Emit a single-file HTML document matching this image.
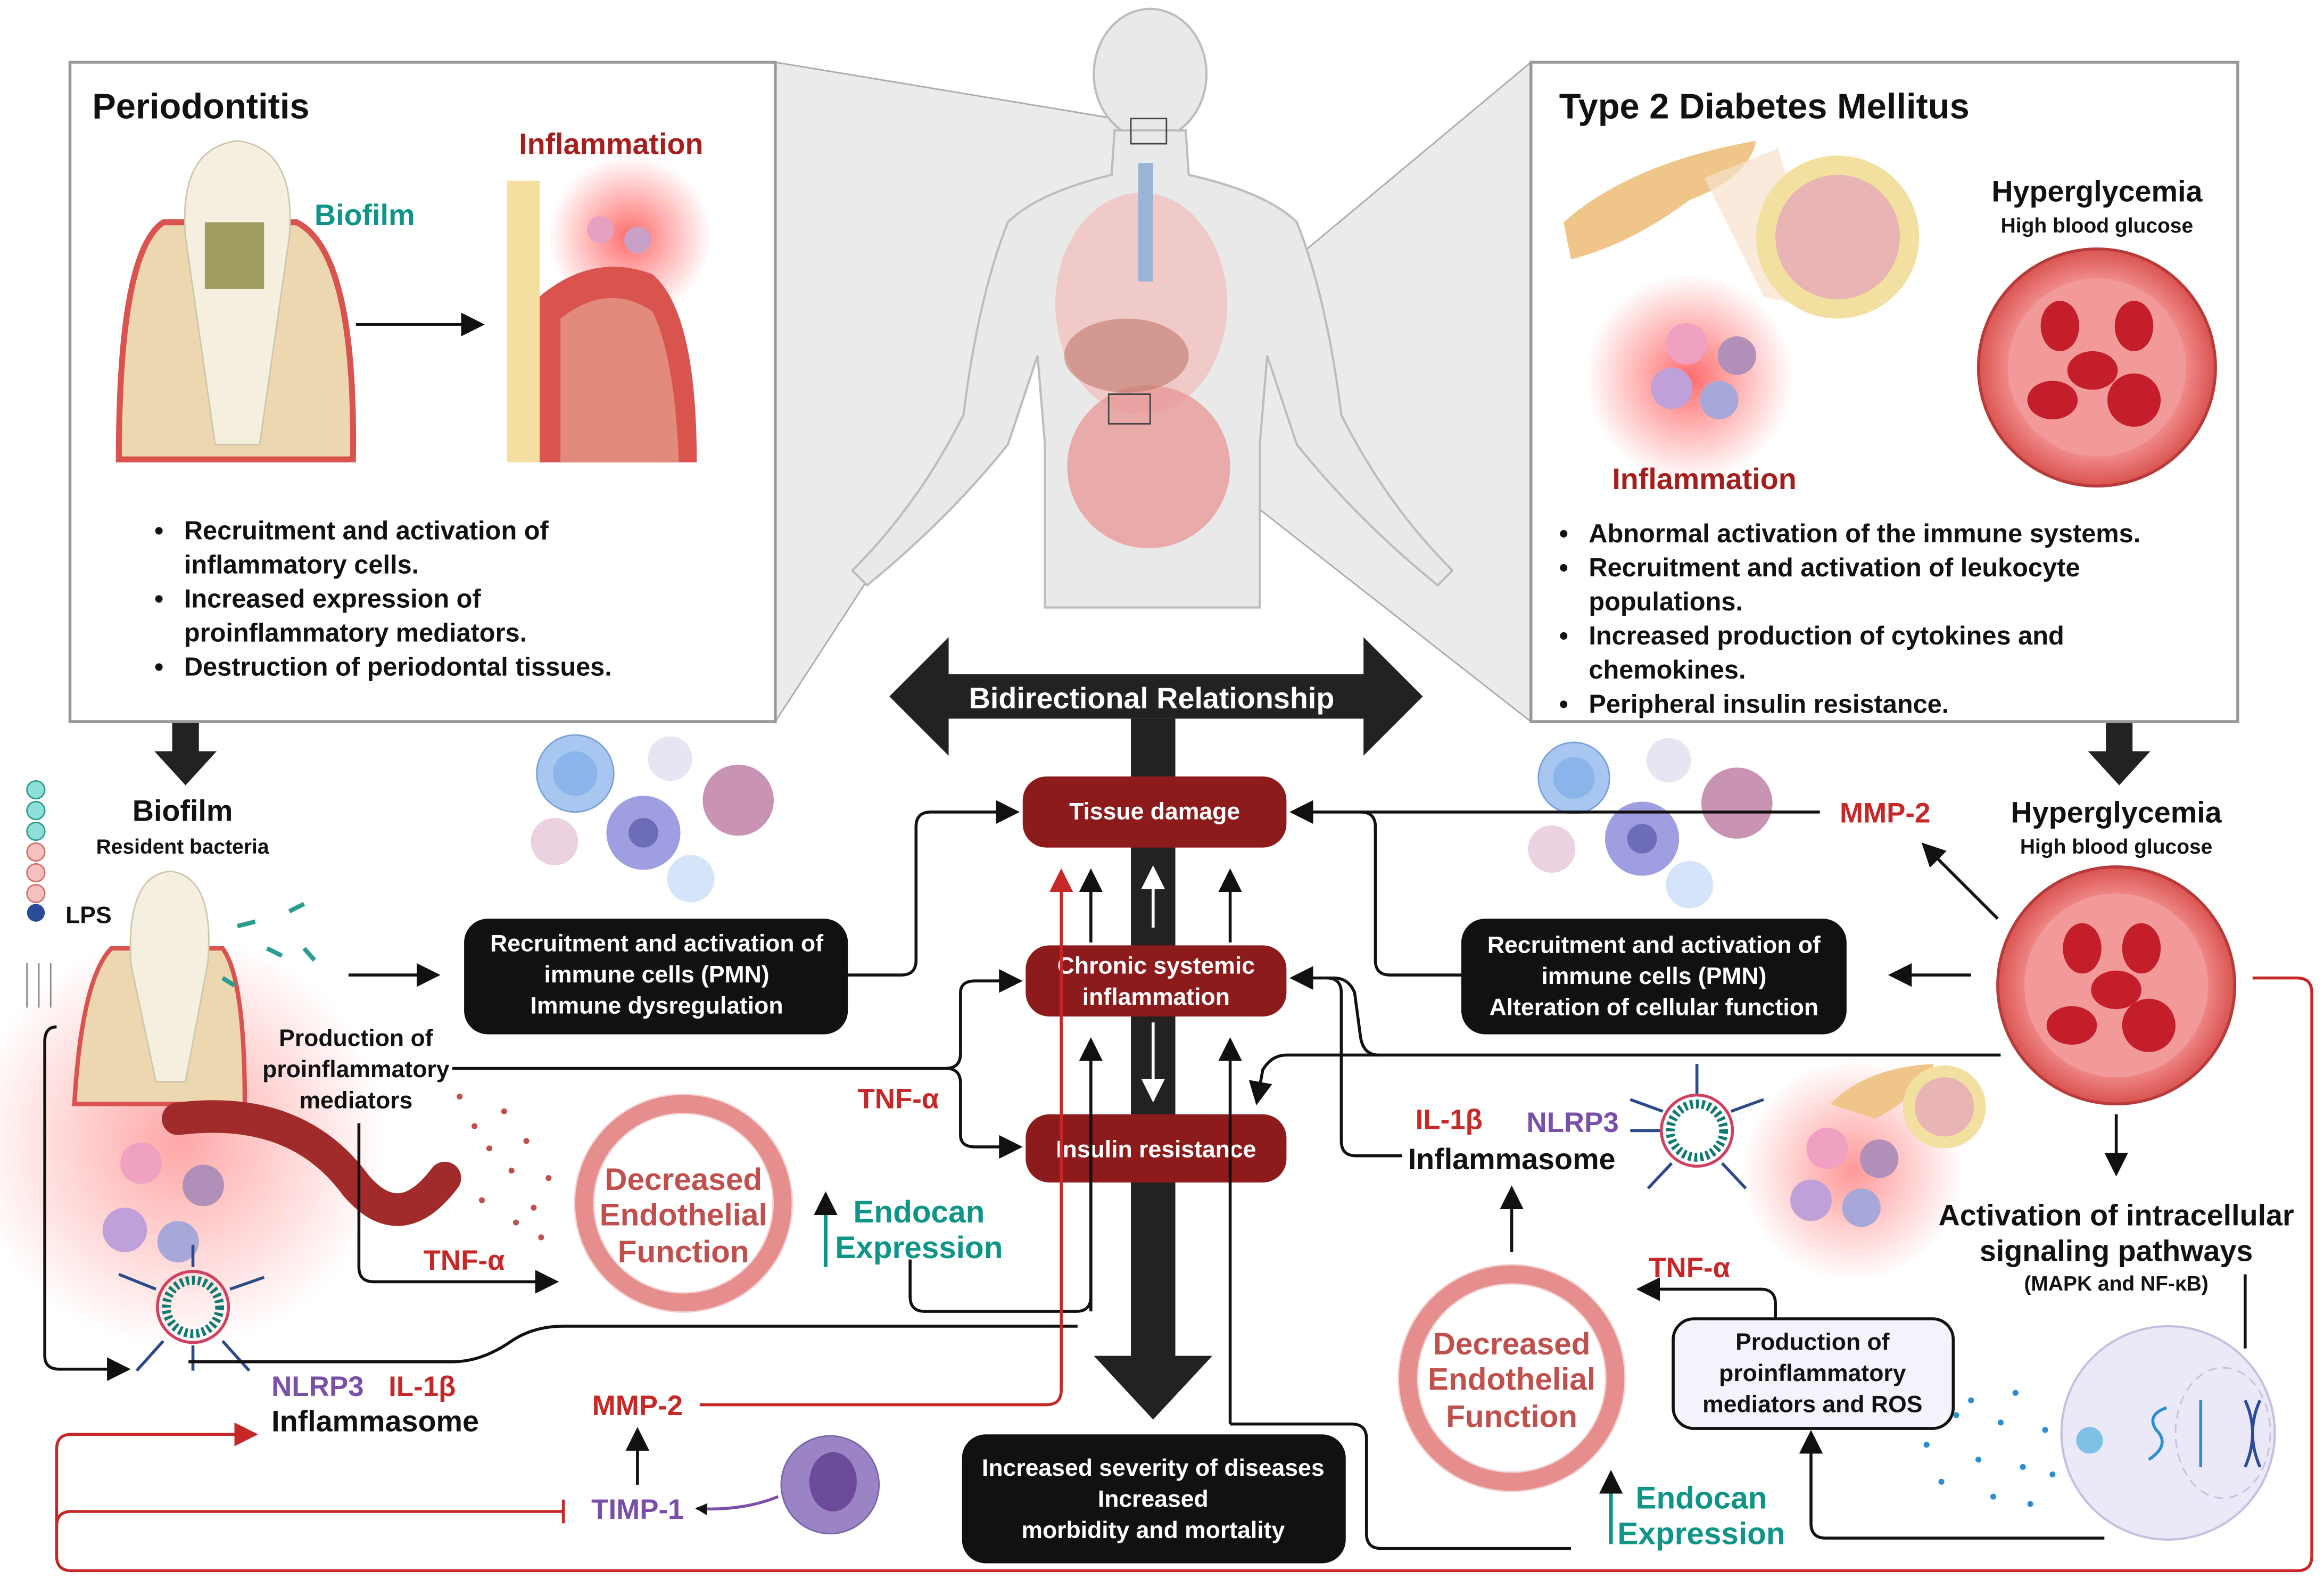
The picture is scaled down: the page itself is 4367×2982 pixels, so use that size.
<!DOCTYPE html>
<html><head><meta charset="utf-8"><style>
html,body{margin:0;padding:0;background:#fff}
svg{display:block}
text{font-family:"Liberation Sans",sans-serif;font-weight:bold}
</style></head><body>
<svg width="4367" height="2982" viewBox="0 0 1568 1071" xmlns="http://www.w3.org/2000/svg">
<defs>
<marker id="ak" markerWidth="8" markerHeight="8" refX="7" refY="4" orient="auto" markerUnits="userSpaceOnUse"><path d="M0,0 L14,7 L0,14 z" transform="scale(0.57)" fill="#111"/></marker>
<marker id="ar" markerWidth="16" markerHeight="16" refX="14" refY="8" orient="auto" markerUnits="userSpaceOnUse"><path d="M0,0 L16,8 L0,16 z" fill="#c62828"/></marker>
<marker id="ab" markerWidth="16" markerHeight="16" refX="14" refY="8" orient="auto" markerUnits="userSpaceOnUse"><path d="M0,0 L16,8 L0,16 z" fill="#111"/></marker>
<marker id="aw" markerWidth="16" markerHeight="16" refX="14" refY="8" orient="auto" markerUnits="userSpaceOnUse"><path d="M0,0 L16,8 L0,16 z" fill="#fff"/></marker>
<radialGradient id="glow"><stop offset="0" stop-color="#ff3b3b" stop-opacity=".75"/><stop offset="1" stop-color="#ff3b3b" stop-opacity="0"/></radialGradient>
<radialGradient id="vess"><stop offset="0.75" stop-color="#f08a8a"/><stop offset="1" stop-color="#d9534f"/></radialGradient>
</defs>

<polygon points="523,42 776,84 776,98 523,487" fill="#ebebeb" stroke="#aaa" stroke-width="1"/>
<polygon points="1033,42 762,268 776,286 1033,487" fill="#ebebeb" stroke="#aaa" stroke-width="1"/>

<g fill="#e9e9e9" stroke="#bdbdbd" stroke-width="1.5">
<ellipse cx="776" cy="50" rx="38" ry="44"/>
<path d="M752,88 L750,118 Q700,130 680,150 Q660,200 650,280 Q620,340 575,385 L585,395 Q640,350 680,300 L700,240 L705,300 L705,410 L850,410 L850,300 L855,240 L875,300 Q915,350 970,395 L980,385 Q935,340 905,280 Q895,200 875,150 Q855,130 802,118 L800,88 Z"/>
</g>
<ellipse cx="770" cy="205" rx="58" ry="75" fill="#f1c0c0" opacity=".8"/>
<ellipse cx="775" cy="315" rx="55" ry="55" fill="#e99a9a" opacity=".8"/>
<ellipse cx="760" cy="240" rx="42" ry="25" fill="#c0796a" opacity=".6"/>
<rect x="768" y="110" width="10" height="80" fill="#9ab4d6"/>
<rect x="763" y="80" width="24" height="17" fill="none" stroke="#444"/>
<rect x="748" y="266" width="28" height="20" fill="none" stroke="#444"/>

<rect x="47" y="42" width="476" height="445" fill="#fff" stroke="#999" stroke-width="2"/>
<rect x="1033" y="42" width="477" height="445" fill="#fff" stroke="#999" stroke-width="2"/>

<text x="62" y="80" font-size="24" fill="#111">Periodontitis</text>
<text x="350" y="104" font-size="20" fill="#a51e1e">Inflammation</text>
<text x="212" y="152" font-size="20" fill="#0f9488">Biofilm</text>
<path d="M80,310 Q80,170 110,150 L200,150 Q240,170 238,310 Z" fill="#ecd7b0" stroke="#d9534f" stroke-width="4"/>
<path d="M125,160 Q120,100 160,95 Q200,100 195,160 L175,300 L145,300 Z" fill="#f5efe0" stroke="#cfc6ae"/>
<rect x="138" y="150" width="40" height="45" fill="#7a7a2a" opacity=".7"/>
<line x1="240" y1="219" x2="325" y2="219" stroke="#111" stroke-width="2" marker-end="url(#ab)"/>
<circle cx="425" cy="160" r="55" fill="url(#glow)"/>
<rect x="342" y="122" width="22" height="190" fill="#f5dfa0"/>
<path d="M364,312 L364,200 Q400,170 440,185 Q470,210 470,312 Z" fill="#d9534f"/>
<path d="M378,312 L378,215 Q410,190 440,210 Q455,240 458,312 Z" fill="#e28b7d"/>
<circle cx="405" cy="155" r="9" fill="#e6a0c0"/><circle cx="430" cy="162" r="9" fill="#c8a0c8"/>
<g font-size="17.5" fill="#111">
<text x="104" y="364">•</text><text x="124" y="364">Recruitment and activation of</text>
<text x="124" y="387">inflammatory cells.</text>
<text x="104" y="410">•</text><text x="124" y="410">Increased expression of</text>
<text x="124" y="433">proinflammatory mediators.</text>
<text x="104" y="456">•</text><text x="124" y="456">Destruction of periodontal tissues.</text>
</g>

<text x="1052" y="80" font-size="24" fill="#111">Type 2 Diabetes Mellitus</text>
<text x="1415" y="136" font-size="20" fill="#111" text-anchor="middle">Hyperglycemia</text>
<text x="1415" y="157" font-size="14" fill="#111" font-weight="normal" text-anchor="middle">High blood glucose</text>
<path d="M1055,150 Q1100,110 1185,95 Q1180,120 1140,135 Q1100,165 1060,175 Z" fill="#efc58a"/>
<polygon points="1150,120 1200,100 1230,210 1190,200" fill="#f6e1cc" opacity=".7"/>
<circle cx="1240" cy="160" r="55" fill="#f2e0a0"/><circle cx="1240" cy="160" r="42" fill="#e9b4b4"/>
<circle cx="1140" cy="255" r="70" fill="url(#glow)"/>
<circle cx="1138" cy="232" r="14" fill="#f0a0c0"/><circle cx="1172" cy="240" r="13" fill="#b090b8"/>
<circle cx="1128" cy="262" r="14" fill="#c0a0d8"/><circle cx="1160" cy="270" r="13" fill="#a8a8d8"/>
<text x="1150" y="330" font-size="20" fill="#a51e1e" text-anchor="middle">Inflammation</text>
<circle cx="1415" cy="248" r="80" fill="url(#vess)" stroke="#b83b3b" stroke-width="2"/>
<circle cx="1415" cy="248" r="60" fill="#f29a9a"/>
<ellipse cx="1390" cy="220" rx="13" ry="17" fill="#c41e2a"/><ellipse cx="1440" cy="220" rx="13" ry="17" fill="#c41e2a"/>
<ellipse cx="1412" cy="250" rx="17" ry="13" fill="#c41e2a"/><ellipse cx="1385" cy="270" rx="17" ry="13" fill="#c41e2a"/>
<ellipse cx="1440" cy="270" rx="18" ry="18" fill="#c41e2a"/>
<g font-size="17.5" fill="#111">
<text x="1052" y="366">•</text><text x="1072" y="366">Abnormal activation of the immune systems.</text>
<text x="1052" y="389">•</text><text x="1072" y="389">Recruitment and activation of leukocyte</text>
<text x="1072" y="412">populations.</text>
<text x="1052" y="435">•</text><text x="1072" y="435">Increased production of cytokines and</text>
<text x="1072" y="458">chemokines.</text>
<text x="1052" y="481">•</text><text x="1072" y="481">Peripheral insulin resistance.</text>
</g>

<polygon points="600,470 640,430 640,455 920,455 920,430 960,470 920,510 920,485 640,485 640,510" fill="#222"/>
<text x="777" y="478" font-size="20" fill="#fff" text-anchor="middle">Bidirectional Relationship</text>
<polygon points="763,485 793,485 793,915 818,915 778,958 738,915 763,915" fill="#222"/>

<polygon points="116,488 134,488 134,507 146,507 125,530 104,507 116,507" fill="#222"/>
<polygon points="1421,488 1439,488 1439,507 1451,507 1430,530 1409,507 1421,507" fill="#222"/>

<rect x="690" y="524" width="178" height="48" rx="16" fill="#8e1b1b"/>
<text x="779" y="553" font-size="16" fill="#fff" text-anchor="middle">Tissue damage</text>
<rect x="692" y="638" width="176" height="48" rx="16" fill="#8e1b1b"/>
<text x="780" y="657" font-size="16" fill="#fff" text-anchor="middle">Chronic systemic</text>
<text x="780" y="678" font-size="16" fill="#fff" text-anchor="middle">inflammation</text>
<rect x="692" y="752" width="176" height="46" rx="16" fill="#8e1b1b"/>
<text x="780" y="781" font-size="16" fill="#fff" text-anchor="middle">Insulin resistance</text>

<line x1="736" y1="636" x2="736" y2="588" stroke="#111" stroke-width="2" marker-end="url(#ab)"/>
<line x1="830" y1="636" x2="830" y2="588" stroke="#111" stroke-width="2" marker-end="url(#ab)"/>
<line x1="778" y1="626" x2="778" y2="586" stroke="#fff" stroke-width="2" marker-end="url(#aw)"/>
<line x1="778" y1="690" x2="778" y2="742" stroke="#fff" stroke-width="2" marker-end="url(#aw)"/>
<line x1="736" y1="885" x2="736" y2="702" stroke="#111" stroke-width="2" marker-end="url(#ab)"/>
<line x1="830" y1="961" x2="830" y2="702" stroke="#111" stroke-width="2" marker-end="url(#ab)"/>

<rect x="313" y="620" width="259" height="78" rx="16" fill="#111"/>
<g font-size="16" fill="#fff" text-anchor="middle">
<text x="443" y="642">Recruitment and activation of</text>
<text x="443" y="663">immune cells (PMN)</text>
<text x="443" y="684">Immune dysregulation</text>
</g>
<rect x="986" y="620" width="260" height="78" rx="16" fill="#111"/>
<g font-size="16" fill="#fff" text-anchor="middle">
<text x="1116" y="643">Recruitment and activation of</text>
<text x="1116" y="664">immune cells (PMN)</text>
<text x="1116" y="685">Alteration of cellular function</text>
</g>
<rect x="649" y="968" width="259" height="87" rx="16" fill="#111"/>
<g font-size="16" fill="#fff" text-anchor="middle">
<text x="778" y="996">Increased severity of diseases</text>
<text x="778" y="1017">Increased</text>
<text x="778" y="1038">morbidity and mortality</text>
</g>

<text x="123" y="554" font-size="20" fill="#111" text-anchor="middle">Biofilm</text>
<text x="123" y="576" font-size="14" fill="#111" font-weight="normal" text-anchor="middle">Resident bacteria</text>
<g fill="#8fe0d8" stroke="#2a9d8f"><circle cx="24" cy="533" r="6"/><circle cx="24" cy="547" r="6"/><circle cx="24" cy="561" r="6"/></g>
<g fill="#f5c0c0" stroke="#d07070"><circle cx="24" cy="575" r="6"/><circle cx="24" cy="589" r="6"/><circle cx="24" cy="603" r="6"/></g>
<circle cx="24" cy="616" r="6" fill="#2a4a9a"/>
<text x="44" y="623" font-size="16" fill="#111">LPS</text>
<g stroke="#888" stroke-width="1"><line x1="18" y1="650" x2="18" y2="680"/><line x1="26" y1="650" x2="26" y2="680"/><line x1="34" y1="650" x2="34" y2="680"/></g>
<circle cx="40" cy="770" r="140" fill="url(#glow)" opacity=".6" transform="translate(80,0)"/>
<path d="M50,745 Q55,660 75,640 L150,640 Q165,660 165,745 Z" fill="#ecd7b0" stroke="#d9534f" stroke-width="3"/>
<path d="M88,650 Q85,590 115,588 Q145,592 140,650 L125,730 L105,730 Z" fill="#f5efe0" stroke="#cfc6ae"/>
<circle cx="95" cy="785" r="14" fill="#f0a0c0"/><circle cx="137" cy="800" r="14" fill="#b090b8"/>
<circle cx="84" cy="830" r="15" fill="#c0a0d8"/><circle cx="120" cy="838" r="14" fill="#a8a8d8"/>
<g stroke="#2a9d8f" stroke-width="3"><line x1="160" y1="625" x2="172" y2="622"/><line x1="195" y1="615" x2="205" y2="610"/><line x1="180" y1="640" x2="190" y2="645"/><line x1="205" y1="640" x2="212" y2="648"/><line x1="150" y1="660" x2="158" y2="665"/></g>
<line x1="235" y1="658" x2="295" y2="658" stroke="#111" stroke-width="2" marker-end="url(#ab)"/>
<text x="240" y="706" font-size="16" fill="#111" text-anchor="middle">Production of</text>
<text x="240" y="727" font-size="16" fill="#111" text-anchor="middle">proinflammatory</text>
<text x="240" y="748" font-size="16" fill="#111" text-anchor="middle">mediators</text>
<circle cx="388" cy="522" r="26" fill="#a7c6f0" stroke="#7aa0d8"/><circle cx="388" cy="522" r="15" fill="#8ab4ea"/>
<circle cx="452" cy="512" r="15" fill="#e6e6f2"/>
<circle cx="498" cy="540" r="24" fill="#c994b4"/>
<circle cx="434" cy="562" r="25" fill="#9f9ee0"/><circle cx="434" cy="562" r="10" fill="#6d6cb8"/>
<circle cx="374" cy="568" r="16" fill="#ecd2e0"/>
<circle cx="466" cy="593" r="16" fill="#d6e4fa"/>
<path d="M120,755 Q200,745 240,800 Q270,835 300,795" fill="none" stroke="#a12b2b" stroke-width="22" stroke-linecap="round"/>
<g fill="#c0504d"><circle cx="320" cy="760" r="2"/><circle cx="330" cy="775" r="2"/><circle cx="345" cy="790" r="2"/><circle cx="310" cy="740" r="2"/><circle cx="340" cy="750" r="2"/><circle cx="355" cy="770" r="2"/><circle cx="325" cy="810" r="2"/><circle cx="360" cy="815" r="2"/><circle cx="370" cy="795" r="2"/><circle cx="348" cy="825" r="2"/><circle cx="365" cy="835" r="2"/></g>
<circle cx="461" cy="812" r="67" fill="none" stroke="#ec9b9b" stroke-width="12"/>
<circle cx="461" cy="812" r="67" fill="none" stroke="#d86d6d" stroke-width="14" stroke-opacity=".3"/>
<text x="461" y="803" font-size="21" fill="#c0504d" text-anchor="middle">Decreased</text>
<text x="461" y="827" font-size="21" fill="#c0504d" text-anchor="middle">Endothelial</text>
<text x="461" y="852" font-size="21" fill="#c0504d" text-anchor="middle">Function</text>
<line x1="557" y1="855" x2="557" y2="806" stroke="#0f9488" stroke-width="2.5" marker-end="url(#ab)"/>
<text x="620" y="825" font-size="21" fill="#0f9488" text-anchor="middle">Endocan</text>
<text x="620" y="849" font-size="21" fill="#0f9488" text-anchor="middle">Expression</text>
<text x="313" y="857" font-size="19" fill="#c62828" text-anchor="middle">TNF-α</text>
<text x="606" y="748" font-size="19" fill="#c62828" text-anchor="middle">TNF-α</text>
<circle cx="130" cy="882" r="18" fill="none" stroke="#0f7a70" stroke-width="6" stroke-dasharray="2 2"/>
<circle cx="130" cy="882" r="24" fill="none" stroke="#d04060" stroke-width="2"/>
<g stroke="#2a4a8a" stroke-width="2"><line x1="130" y1="855" x2="130" y2="840"/><line x1="155" y1="870" x2="178" y2="862"/><line x1="105" y1="870" x2="80" y2="860"/><line x1="110" y1="905" x2="92" y2="925"/><line x1="150" y1="905" x2="168" y2="925"/><line x1="130" y1="908" x2="130" y2="925"/></g>
<text x="183" y="942" font-size="19" fill="#7a4fa8">NLRP3</text>
<text x="262" y="942" font-size="19" fill="#c62828">IL-1β</text>
<text x="183" y="966" font-size="20" fill="#111">Inflammasome</text>
<text x="430" y="955" font-size="19" fill="#c62828" text-anchor="middle">MMP-2</text>
<line x1="430" y1="1002" x2="430" y2="965" stroke="#111" stroke-width="2" marker-end="url(#ab)"/>
<text x="430" y="1025" font-size="19" fill="#7a4fa8" text-anchor="middle">TIMP-1</text>
<circle cx="560" cy="1002" r="33" fill="#9a84c6" stroke="#7a64a6"/>
<ellipse cx="562" cy="1000" rx="16" ry="20" fill="#6c4c9a"/>
<path d="M525,1010 Q500,1020 470,1018" fill="none" stroke="#7a4fa8" stroke-width="2" marker-end="url(#ak)"/>

<g fill="none" stroke="#111" stroke-width="2">
<path d="M572,658 L608,658 Q618,658 618,648 L618,558 Q618,548 628,548 L686,548" marker-end="url(#ab)"/>
<path d="M305,721 L638,721 Q648,721 648,711 L648,670 Q648,662 658,662 L688,662" marker-end="url(#ab)"/>
<path d="M638,721 Q648,721 648,731 L648,766 Q648,774 658,774 L688,774" marker-end="url(#ab)"/>
<path d="M242,758 L242,855 Q242,865 252,865 L375,865" marker-end="url(#ab)"/>
<path d="M614,850 L614,875 Q614,885 624,885 L726,885 Q736,885 736,875"/>
<path d="M38,693 Q30,693 30,703 L30,915 Q30,924 40,924 L86,924" marker-end="url(#ab)"/>
<path d="M127,919 L305,919 Q325,919 345,905 Q360,895 380,895 L727,895"/>
</g>
<g fill="none" stroke="#c62828" stroke-width="2">
<path d="M472,948 L706,948 Q716,948 716,938 L716,588" marker-end="url(#ar)"/>
<path d="M1520,660 L1550,660 Q1560,660 1560,670 L1560,1050 Q1560,1060 1550,1060 L48,1060 Q38,1060 38,1050 L38,978 Q38,968 48,968 L172,968" marker-end="url(#ar)"/>
<path d="M380,1020 L48,1020 Q38,1020 38,1030"/>
<line x1="380" y1="1012" x2="380" y2="1028"/>
</g>

<text x="1428" y="555" font-size="20" fill="#111" text-anchor="middle">Hyperglycemia</text>
<text x="1428" y="576" font-size="14" fill="#111" font-weight="normal" text-anchor="middle">High blood glucose</text>
<circle cx="1428" cy="665" r="80" fill="url(#vess)" stroke="#b83b3b" stroke-width="2"/>
<circle cx="1428" cy="665" r="62" fill="#f29a9a"/>
<ellipse cx="1405" cy="640" rx="13" ry="17" fill="#c41e2a"/><ellipse cx="1445" cy="640" rx="13" ry="17" fill="#c41e2a"/>
<ellipse cx="1428" cy="668" rx="17" ry="13" fill="#c41e2a"/><ellipse cx="1398" cy="692" rx="17" ry="13" fill="#c41e2a"/>
<ellipse cx="1450" cy="692" rx="18" ry="18" fill="#c41e2a"/>
<text x="1272" y="555" font-size="19" fill="#c62828" text-anchor="middle">MMP-2</text>
<circle cx="1062" cy="525" r="24" fill="#a7c6f0" stroke="#7aa0d8"/><circle cx="1062" cy="525" r="14" fill="#8ab4ea"/>
<circle cx="1126" cy="513" r="15" fill="#e6e6f2"/>
<circle cx="1172" cy="542" r="24" fill="#c994b4"/>
<circle cx="1108" cy="566" r="25" fill="#9f9ee0"/><circle cx="1108" cy="566" r="10" fill="#6d6cb8"/>
<circle cx="1047" cy="573" r="16" fill="#ecd2e0"/>
<circle cx="1140" cy="597" r="16" fill="#d6e4fa"/>
<g fill="none" stroke="#111" stroke-width="2">
<path d="M1228,548 L872,548" marker-end="url(#ab)"/>
<path d="M986,658 L938,658 Q928,658 928,648 L928,558 Q928,548 918,548"/>
<line x1="1330" y1="658" x2="1276" y2="658" marker-end="url(#ab)"/>
<line x1="1348" y1="620" x2="1298" y2="570" marker-end="url(#ab)"/>
<path d="M1350,712 L868,712 Q858,712 852,722 L848,744" marker-end="url(#ab)"/>
<path d="M930,712 Q920,712 918,700 L914,670 Q910,660 900,660 L872,660" marker-end="url(#ab)"/>
<path d="M946,780 L915,780 Q905,780 905,770 L905,670 Q905,660 895,660"/>
<line x1="1428" y1="752" x2="1428" y2="792" marker-end="url(#ab)"/>
<line x1="1020" y1="845" x2="1020" y2="802" marker-end="url(#ab)"/>
<path d="M1198,890 L1198,880 Q1198,870 1188,870 L1106,870" marker-end="url(#ab)"/>
<path d="M1515,860 L1515,910"/>
<path d="M1420,1038 L1232,1038 Q1222,1038 1222,1028 L1222,967" marker-end="url(#ab)"/>
<path d="M1060,1045 L932,1045 Q922,1045 922,1035 L922,971 Q922,961 912,961 L830,961"/>
</g>
<circle cx="1145" cy="763" r="18" fill="none" stroke="#0f7a70" stroke-width="6" stroke-dasharray="2 2"/>
<circle cx="1145" cy="763" r="24" fill="none" stroke="#d04060" stroke-width="2"/>
<g stroke="#2a4a8a" stroke-width="2"><line x1="1145" y1="738" x2="1145" y2="718"/><line x1="1168" y1="750" x2="1190" y2="742"/><line x1="1122" y1="750" x2="1100" y2="742"/><line x1="1128" y1="785" x2="1112" y2="802"/><line x1="1162" y1="785" x2="1178" y2="802"/><line x1="1120" y1="763" x2="1100" y2="763"/></g>
<text x="955" y="762" font-size="19" fill="#c62828">IL-1β</text>
<text x="1030" y="764" font-size="19" fill="#7a4fa8">NLRP3</text>
<text x="950" y="789" font-size="20" fill="#111">Inflammasome</text>
<circle cx="1250" cy="790" r="75" fill="url(#glow)" opacity=".7"/>
<circle cx="1233" cy="775" r="14" fill="#f0a0c0"/><circle cx="1268" cy="782" r="13" fill="#b090b8"/>
<circle cx="1222" cy="810" r="14" fill="#c0a0d8"/><circle cx="1256" cy="815" r="13" fill="#a8a8d8"/>
<path d="M1235,745 Q1260,720 1305,718 Q1295,740 1265,755 Z" fill="#efc58a"/>
<circle cx="1312" cy="747" r="28" fill="#f2e0a0"/><circle cx="1312" cy="747" r="20" fill="#e9b4b4"/>
<text x="1428" y="827" font-size="20" fill="#111" text-anchor="middle">Activation of intracellular</text>
<text x="1428" y="851" font-size="20" fill="#111" text-anchor="middle">signaling pathways</text>
<text x="1428" y="871" font-size="14" fill="#111" font-weight="normal" text-anchor="middle">(MAPK and NF-κB)</text>
<circle cx="1020" cy="930" r="70" fill="none" stroke="#ec9b9b" stroke-width="12"/>
<circle cx="1020" cy="930" r="70" fill="none" stroke="#d86d6d" stroke-width="14" stroke-opacity=".3"/>
<text x="1020" y="914" font-size="21" fill="#c0504d" text-anchor="middle">Decreased</text>
<text x="1020" y="938" font-size="21" fill="#c0504d" text-anchor="middle">Endothelial</text>
<text x="1020" y="963" font-size="21" fill="#c0504d" text-anchor="middle">Function</text>
<text x="1140" y="862" font-size="19" fill="#c62828" text-anchor="middle">TNF-α</text>
<line x1="1087" y1="1042" x2="1087" y2="994" stroke="#0f9488" stroke-width="2.5" marker-end="url(#ab)"/>
<text x="1148" y="1018" font-size="21" fill="#0f9488" text-anchor="middle">Endocan</text>
<text x="1148" y="1042" font-size="21" fill="#0f9488" text-anchor="middle">Expression</text>
<rect x="1129" y="890" width="189" height="74" rx="14" fill="#f6f2fc" stroke="#111" stroke-width="2"/>
<g font-size="16" fill="#111" text-anchor="middle">
<text x="1223" y="911">Production of</text>
<text x="1223" y="932">proinflammatory</text>
<text x="1223" y="953">mediators and ROS</text>
</g>
<circle cx="1463" cy="967" r="72" fill="#ebe8f7" stroke="#c5c0e0" stroke-width="1.5"/>
<ellipse cx="1500" cy="967" rx="32" ry="44" fill="none" stroke="#c5c0e0" stroke-dasharray="6 4"/>
<circle cx="1410" cy="972" r="9" fill="#7ec0e6"/>
<g fill="#2a8fd0"><circle cx="1300" cy="975" r="2"/><circle cx="1320" cy="955" r="2"/><circle cx="1335" cy="985" r="2"/><circle cx="1350" cy="960" r="2"/><circle cx="1365" cy="990" r="2"/><circle cx="1380" cy="965" r="2"/><circle cx="1310" cy="1000" r="2"/><circle cx="1345" cy="1010" r="2"/><circle cx="1370" cy="1015" r="2"/><circle cx="1385" cy="995" r="2"/><circle cx="1330" cy="945" r="2"/><circle cx="1360" cy="940" r="2"/></g>
<path d="M1450,985 Q1465,975 1455,965 Q1448,955 1462,950" fill="none" stroke="#2a8fd0" stroke-width="2"/>
<line x1="1485" y1="945" x2="1485" y2="990" stroke="#2a8fd0" stroke-width="2"/>
<path d="M1515,945 Q1525,967 1515,990 M1525,945 Q1515,967 1525,990" fill="none" stroke="#2a4a9a" stroke-width="2"/>
</svg>
</body></html>
